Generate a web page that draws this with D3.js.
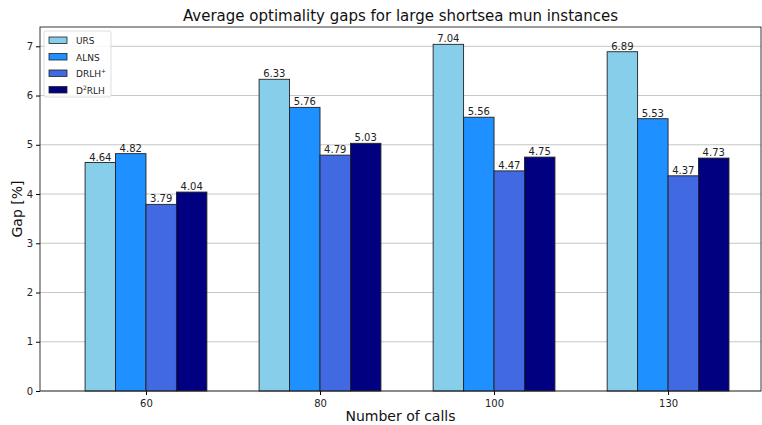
<!DOCTYPE html>
<html>
<head>
<meta charset="utf-8">
<script src="https://cdn.jsdelivr.net/npm/d3@7"></script>
<style>
  body { margin: 0; background: #fff; }
  text { font-family: "DejaVu Sans", sans-serif; }
</style>
</head>
<body>
<div id="chart"></div>
<script>
// data
const categories = ["60", "80", "100", "130"];
const seriesNames = ["URS", "ALNS", "DRLH", "D2RLH"];
const urs = [4.64, 6.33, 7.04, 6.89];
const alns = [4.82, 5.76, 5.56, 5.53];
const drlh = [3.79, 4.79, 4.47, 4.37];
const d2rlh = [4.04, 5.03, 4.75, 4.73];
const yTicks = [0, 1, 2, 3, 4, 5, 6, 7];
const colors = ["#87CEEB", "#1E90FF", "#4169E1", "#000080"];

const allSeries = [urs, alns, drlh, d2rlh];

const W = 762, H = 425;
const margin = {top: 27, right: 1, bottom: 34, left: 40};
const width = W - margin.left - margin.right,
      height = H - margin.top - margin.bottom;

const svg = d3.select("#chart")
    .append("svg")
    .attr("width", W)
    .attr("height", H);

const g = svg.append("g")
    .attr("transform", `translate(${margin.left},${margin.top})`);

// x as a linear scale over category index, so the margins match the picture
const x = d3.scaleLinear()
    .domain([-0.609, 3.534])
    .range([0, width]);
const barW = 0.175;

const y = d3.scaleLinear()
    .domain([0, 7.392])
    .range([height, 0]);

// grid
g.append("g")
    .selectAll("line")
    .data(yTicks)
    .join("line")
    .attr("x1", 0)
    .attr("x2", width)
    .attr("y1", d => y(d))
    .attr("y2", d => y(d))
    .attr("stroke", "#c0c0c0")
    .attr("stroke-width", 0.9);

// bars
allSeries.forEach((vals, k) => {
    const off = (k - 1.5) * barW;
    const grp = g.append("g");
    grp.selectAll("rect")
        .data(vals)
        .join("rect")
        .attr("x", (d, i) => x(i + off - barW / 2))
        .attr("y", d => y(d))
        .attr("width", x(barW) - x(0))
        .attr("height", d => height - y(d))
        .attr("fill", colors[k])
        .attr("stroke", "#222")
        .attr("stroke-width", 0.9);
    grp.selectAll("text")
        .data(vals)
        .join("text")
        .attr("x", (d, i) => x(i + off))
        .attr("y", d => y(d) - 2)
        .attr("text-anchor", "middle")
        .attr("font-size", "10px")
        .attr("fill", "#222")
        .text(d => d.toFixed(2));
});

// axes
const xAxis = g.append("g")
    .attr("transform", `translate(0,${height})`)
    .call(d3.axisBottom(x)
        .tickValues(categories.map((c, i) => i))
        .tickFormat(i => categories[i])
        .tickSizeOuter(0)
        .tickSize(4));
xAxis.selectAll("text").attr("font-size", "10px").attr("fill", "#222").attr("dy", "0.9em");

const yAxis = g.append("g")
    .call(d3.axisLeft(y)
        .tickValues(yTicks)
        .tickFormat(d3.format("d"))
        .tickSizeOuter(0)
        .tickSize(4));
yAxis.selectAll("text").attr("font-size", "10px").attr("fill", "#222");
xAxis.select(".domain").remove();
yAxis.select(".domain").remove();

// frame
g.append("rect")
    .attr("width", width)
    .attr("height", height)
    .attr("fill", "none")
    .attr("stroke", "#222")
    .attr("stroke-width", 0.9);

// title and labels
svg.append("text")
    .attr("x", margin.left + width / 2)
    .attr("y", 21)
    .attr("text-anchor", "middle")
    .attr("font-size", "15px")
    .attr("fill", "#111")
    .text("Average optimality gaps for large shortsea mun instances");

svg.append("text")
    .attr("x", margin.left + width / 2)
    .attr("y", 421)
    .attr("text-anchor", "middle")
    .attr("font-size", "14px")
    .attr("fill", "#111")
    .text("Number of calls");

svg.append("text")
    .attr("transform", `translate(22,${margin.top + height / 2}) rotate(-90)`)
    .attr("text-anchor", "middle")
    .attr("font-size", "14px")
    .attr("fill", "#111")
    .text("Gap [%]");

// legend
const lg = g.append("g").attr("transform", "translate(4,4)");
lg.append("rect")
    .attr("width", 67)
    .attr("height", 66)
    .attr("rx", 2)
    .attr("fill", "#fff")
    .attr("fill-opacity", 0.85)
    .attr("stroke", "#ddd");
seriesNames.forEach((name, k) => {
    const row = lg.append("g").attr("transform", `translate(5,${6 + k * 16.5})`);
    row.append("rect")
        .attr("width", 18)
        .attr("height", 6.5)
        .attr("fill", colors[k])
        .attr("stroke", "#222")
        .attr("stroke-width", 0.8);
    const t = row.append("text")
        .attr("x", 27)
        .attr("y", 7)
        .attr("font-size", "9px")
        .attr("fill", "#222");
    if (name === "DRLH") {
        t.append("tspan").text("DRLH");
        t.append("tspan").attr("font-size", "6px").attr("dy", "-4").text("+");
    } else if (name === "D2RLH") {
        t.append("tspan").text("D");
        t.append("tspan").attr("font-size", "6px").attr("dy", "-4").text("2");
        t.append("tspan").attr("dy", "4").text("RLH");
    } else {
        t.text(name);
    }
});
</script>
</body>
</html>
